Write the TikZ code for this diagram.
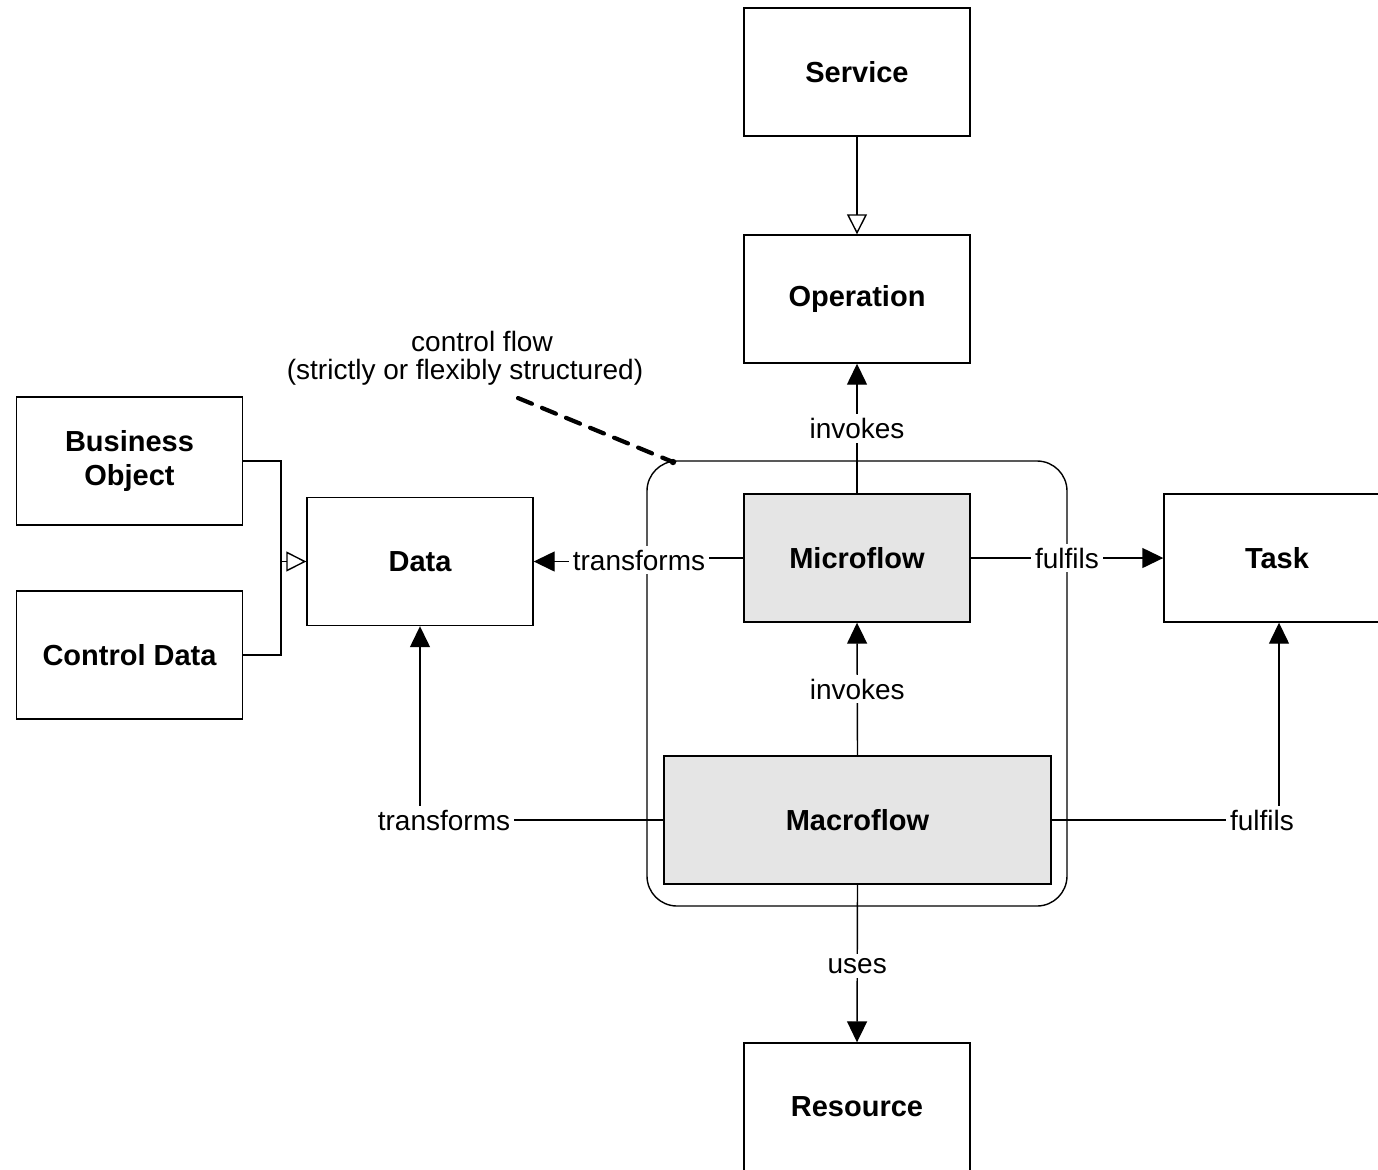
\documentclass[tikz,border=0pt]{standalone}
\usepackage{fontspec}
\setmainfont{Liberation Sans}
\usetikzlibrary{arrows.meta}
\begin{document}
\begin{tikzpicture}[x=0.5pt,y=-0.5pt,
  box/.style={draw=black,line width=0.7pt,fill=white,minimum width=113pt,minimum height=64pt,inner sep=0pt,font=\bfseries\fontsize{14.5}{17}\selectfont},
  flowbox/.style={box,fill=black!10},
  lbl/.style={fill=white,inner sep=2pt,font=\fontsize{14}{17}\selectfont},
  conn/.style={line width=0.7pt},
  solid tip/.style={-{Triangle[width=10pt,length=10.5pt]}},
  open tip/.style={-{Triangle[open,width=10pt,length=10pt,fill=white]}}]
\useasboundingbox (0,0) rectangle (1378,1169);
\clip (0,0) rectangle (1378,1169);

% control-flow container
\draw[line width=0.7pt,rounded corners=15pt] (647,461) rectangle (1067,906);
\coordinate (cfend) at (673,462);

% boxes
\node[box] (service) at (857,72) {Service};
\node[box] (operation) at (857,299) {Operation};
\node[box,align=center] (bo) at (129.5,461) {Business\\Object};
\node[box] (cd) at (129.5,655) {Control Data};
\node[box] (data) at (420,561.5) {Data};
\node[flowbox] (micro) at (857,558) {Microflow};
\node[box] (task) at (1277,558) {Task};
\node[flowbox,minimum width=193.5pt] (macro) at (857.5,820) {Macroflow};
\node[box] (resource) at (857,1107) {Resource};

% generalisation
\draw[conn,open tip] (service.south) -- (operation.north);
\coordinate (gj) at (281,561.5);
\draw[conn] (bo.east) -| (gj) |- (cd.east);
\draw[conn,open tip] (gj) -- (data.west);

% associations
\draw[conn,solid tip] (micro.north) -- node[lbl,pos=0.5] {invokes} (operation.south);
\coordinate (tbend) at (640,558);
\draw[conn,solid tip] (micro.west) -- (tbend) -- (tbend |- data.east) -- (data.east);
\node[lbl] (ltm) at (639,560) {transforms};
\draw[conn,solid tip] (micro.east) -- node[lbl,pos=0.5] {fulfils} (task.west);
\draw[conn,solid tip] (macro.north) -- node[lbl] {invokes} (micro.south);
\draw[conn,solid tip] (macro.west) -| (data.south);
\node[lbl] (ltr) at (444,820) {transforms};
\draw[conn,solid tip] (macro.east) -| (1279,0 |- task.south);
\node[lbl] (lff) at (1262,820) {fulfils};
\draw[conn,solid tip] (macro.south) -- node[lbl,pos=0.515] {uses} (resource.north);

% control flow annotation
\node[font=\fontsize{14}{17}\selectfont,inner sep=0pt] (cf1) at (482,341) {control flow};
\node[font=\fontsize{14}{17}\selectfont,inner sep=0pt] (cf2) at (465,372) {(strictly or flexibly structured)};
\coordinate (cfstart) at (518,398);
\draw[line width=2.1pt,dash pattern=on 7.5pt off 5.5pt,line cap=round] (cfstart) -- (cfend);
\fill (cfend) circle (1.6pt);
\end{tikzpicture}
\end{document}
